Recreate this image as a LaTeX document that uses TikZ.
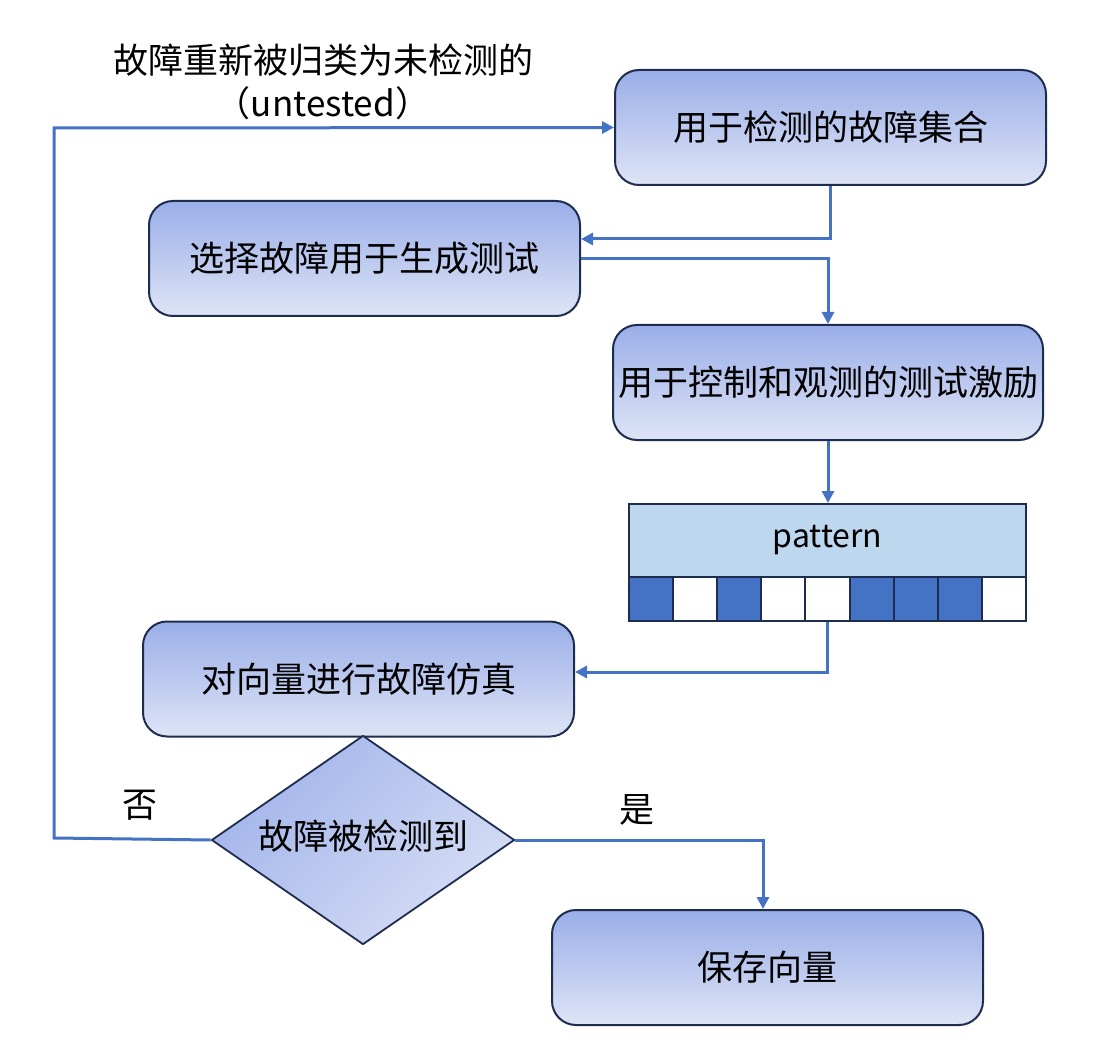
\documentclass[tikz,border=0pt]{standalone}
\usepackage{fontspec}
\setmainfont{Noto Sans CJK SC}
\newfontfamily\cjk{Noto Sans CJK SC}
\usetikzlibrary{arrows.meta,shapes.geometric}
\definecolor{gtop}{HTML}{9AAEE8}
\definecolor{gbot}{HTML}{DEE4F6}
\definecolor{dtop}{HTML}{A2B4EA}
\definecolor{dbot}{HTML}{D6DEF5}
\definecolor{edge}{HTML}{1E2C4E}
\definecolor{conn}{HTML}{4472C4}
\definecolor{patfill}{HTML}{BDD7EE}
\tikzset{
  flowbox/.style={draw=edge, line width=2pt, rounded corners=24pt, minimum width=431pt, minimum height=115pt,
    top color=gtop, bottom color=gbot, font=\cjk\fontsize{35}{40}\selectfont, text=black, inner sep=0pt},
  decbox/.style={draw=edge, line width=1.8pt, shape=diamond, minimum width=303pt, minimum height=209pt,
    shape aspect=1.45, inner sep=0pt, top color=dtop, bottom color=dbot, shading angle=45,
    font=\cjk\fontsize{35}{40}\selectfont},
  cell/.style={draw=edge, line width=2pt, minimum width=44.11pt, minimum height=44pt, inner sep=0pt},
  on/.style={fill=conn},
  off/.style={fill=white},
  link/.style={draw=conn, line width=3pt, -{Triangle[length=12pt,width=12pt]}},
  lbl/.style={font=\cjk\fontsize{35}{40}\selectfont, inner sep=0pt}
}
\begin{document}
\begin{tikzpicture}[x=1pt,y=-1pt]
\useasboundingbox (0,0) rectangle (1100,1048);
\node[flowbox] (A) at (830.5,127.5) {用于检测的故障集合};
\node[flowbox] (B) at (364.5,258.5) {选择故障用于生成测试};
\node[flowbox, minimum width=430pt] (C) at (828,382.5) {用于控制和观测的测试激励};
\node[draw=edge, line width=2pt, fill=patfill, minimum width=397pt, minimum height=73pt, inner sep=0pt,
  font=\cjk\fontsize{32}{36}\selectfont] (pat) at (827.5,540.5) {\raisebox{-3pt}{pattern}};
\foreach \i/\s in {1/on,2/off,3/on,4/off,5/off,6/on,7/on,8/on,9/off}{
  \node[cell,\s] (c\i) at ({629+(\i-0.5)*44.111},599) {};
}
\node[flowbox] (D) at (358.5,679) {对向量进行故障仿真};
\node[decbox] (dia) at (363,840) {\raisebox{10pt}{故障被检测到}};
\node[flowbox] (E) at (767.5,967.5) {保存向量};

\node[lbl] (t1) at (323,60) {故障重新被归类为未检测的};
\node[lbl] (t2) at (323,103) {（untested）};
\node[lbl] (no) at (140,805) {否};
\node[lbl] (yes) at (637,810) {是};

\coordinate (k1) at (54,838);
\coordinate (k2) at (54,128);

\draw[link] (A.south) |- ([yshift=19.5pt]B.east);
\draw[link] (B.east) -| (C.north);
\draw[link] (C.south) -- (C.south |- pat.north);
\draw[link] (c5.south) |- ([yshift=7pt]D.east);
\draw[link] (dia.east) -| ([xshift=-4.5pt]E.north);
\draw[link] (dia.west) -- (k1) -- (k2) -- (A.west);
\end{tikzpicture}
\end{document}
